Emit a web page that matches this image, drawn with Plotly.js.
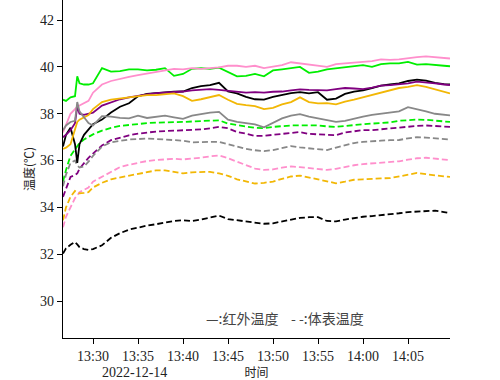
<!DOCTYPE html>
<html>
<head>
<meta charset="utf-8">
<script src="https://cdn.plot.ly/plotly-3.0.1.min.js"></script>
<style>html,body{margin:0;padding:0;background:#fff;}#chart{width:500px;height:380px;}</style>
</head>
<body>
<div id="chart"></div>
<script>
var times = ["13:26:40","13:27:00","13:27:30","13:28:00","13:28:15","13:28:30","13:29:00","13:29:30","13:30:00",
"13:31:00","13:32:00","13:33:00","13:34:00","13:35:00","13:36:00","13:37:00","13:38:00","13:39:00","13:40:00",
"13:41:00","13:42:00","13:43:00","13:44:00","13:45:00","13:46:00","13:47:00","13:48:00","13:49:00","13:50:00",
"13:51:00","13:52:00","13:53:00","13:54:00","13:55:00","13:56:00","13:57:00","13:58:00","13:59:00","14:00:00",
"14:01:00","14:02:00","14:03:00","14:04:00","14:05:00","14:06:00","14:07:00","14:08:00","14:09:00","14:09:40"];
var dateStr = "2022-12-14";

// 红外温度 (solid)
var greenIR  = [38.6,38.55,38.7,38.75,39.6,39.3,39.25,39.25,39.3,39.95,39.8,39.82,39.9,39.9,39.85,39.88,39.95,39.62,39.7,39.92,39.95,39.92,39.97,39.8,39.6,39.62,39.7,39.6,39.85,39.9,39.94,40.0,39.75,39.8,39.9,39.95,40.0,40.05,40.08,40.0,40.12,40.15,40.15,40.22,40.1,40.12,40.1,40.05,40.03];
var pinkIR   = [37.2,37.5,38.0,38.2,38.3,38.35,38.45,38.55,38.9,39.25,39.4,39.5,39.58,39.65,39.72,39.8,39.88,39.92,39.9,39.95,39.92,39.95,39.98,40.05,40.05,40.0,40.05,39.95,40.0,40.08,40.2,40.15,40.08,40.05,40.0,40.12,40.15,40.18,40.22,40.25,40.32,40.3,40.32,40.38,40.42,40.45,40.42,40.38,40.36];
var blackIR  = [36.6,37.1,37.4,36.7,35.9,36.7,37.1,37.35,37.55,37.75,38.05,38.3,38.45,38.75,38.85,38.88,38.92,38.94,38.95,39.1,39.18,39.22,39.32,38.95,38.87,38.72,38.62,38.6,38.72,38.8,38.88,38.92,38.87,38.92,38.6,38.65,38.85,38.95,39.0,39.1,39.2,39.25,39.3,39.4,39.46,39.42,39.32,39.27,39.25];
var purpleIR = [37.0,37.1,37.3,37.6,38.3,38.0,37.95,38.0,38.05,38.35,38.5,38.62,38.7,38.78,38.83,38.88,38.9,38.92,38.95,39.0,39.03,39.05,39.02,38.98,38.92,38.9,38.92,38.9,38.94,38.95,39.0,39.04,39.02,39.0,39.0,39.05,39.1,39.08,39.05,39.12,39.2,39.22,39.25,39.3,39.37,39.35,39.3,39.25,39.22];
var orangeIR = [36.5,36.55,36.7,37.4,37.65,37.75,37.85,37.95,38.2,38.5,38.6,38.65,38.72,38.75,38.8,38.8,38.85,38.87,38.75,38.55,38.62,38.72,38.8,38.6,38.42,38.37,38.33,38.2,38.25,38.4,38.5,38.7,38.5,38.44,38.45,38.4,38.52,38.6,38.7,38.8,38.9,38.98,39.1,39.15,39.22,39.15,39.05,38.95,38.87];
var grayIR   = [37.3,37.5,37.65,37.7,38.5,38.1,37.85,37.6,37.5,37.9,37.88,37.82,37.8,37.92,37.82,37.88,37.92,37.85,37.78,37.92,38.0,38.05,38.08,37.75,37.65,37.6,37.55,37.42,37.6,37.8,37.92,37.98,37.88,37.8,37.73,37.65,37.7,37.8,37.88,37.95,38.0,38.05,38.1,38.28,38.2,38.1,38.0,37.95,37.93];

// 体表温度 (dashed)
var greenSk  = [35.1,35.6,36.2,36.5,36.6,36.75,36.9,37.0,37.12,37.28,37.4,37.48,37.53,37.57,37.6,37.62,37.62,37.63,37.65,37.67,37.68,37.7,37.72,37.58,37.5,37.45,37.4,37.38,37.44,37.48,37.5,37.5,37.5,37.5,37.46,37.44,37.48,37.5,37.55,37.58,37.6,37.63,37.7,37.73,37.75,37.74,37.7,37.66,37.65];
var purpleSk = [34.45,34.8,35.3,35.38,35.45,35.65,35.9,36.12,36.3,36.65,36.87,36.98,37.08,37.15,37.2,37.24,37.26,37.27,37.28,37.3,37.33,37.38,37.44,37.38,37.22,37.15,37.05,37.06,37.1,37.15,37.2,37.22,37.14,37.12,37.1,37.08,37.2,37.25,37.3,37.3,37.34,37.37,37.42,37.44,37.48,37.5,37.47,37.44,37.44];
var graySk   = [34.9,35.4,35.9,36.0,35.8,35.7,35.75,35.95,36.2,36.6,36.78,36.85,36.9,36.92,36.94,36.92,36.9,36.87,36.85,36.78,36.8,36.8,36.8,36.7,36.6,36.5,36.44,36.4,36.45,36.55,36.62,36.56,36.52,36.5,36.45,36.55,36.65,36.75,36.8,36.84,36.85,36.87,36.88,36.95,37.0,36.98,36.94,36.91,36.9];
var pinkSk   = [33.15,33.6,34.0,34.4,34.5,34.65,34.75,34.85,35.1,35.3,35.52,35.72,35.82,35.9,35.98,36.02,36.05,36.08,36.05,36.08,36.12,36.18,36.22,36.1,35.95,35.82,35.66,35.6,35.62,35.7,35.75,35.72,35.68,35.62,35.6,35.65,35.73,35.8,35.85,35.88,35.9,35.93,35.97,36.04,36.1,36.12,36.08,36.04,36.02];
var orangeSk = [33.45,34.0,34.45,34.7,34.65,34.6,34.62,34.65,34.85,35.05,35.2,35.28,35.35,35.45,35.52,35.58,35.58,35.5,35.45,35.5,35.52,35.52,35.45,35.35,35.2,35.12,35.02,35.05,35.1,35.22,35.32,35.36,35.28,35.2,35.1,35.03,35.1,35.18,35.2,35.23,35.24,35.25,35.32,35.42,35.47,35.42,35.36,35.32,35.3];
var blackSk  = [32.03,32.25,32.4,32.52,32.42,32.3,32.22,32.18,32.22,32.38,32.7,32.9,33.05,33.15,33.22,33.28,33.35,33.42,33.45,33.42,33.48,33.55,33.65,33.5,33.45,33.42,33.35,33.3,33.32,33.4,33.5,33.55,33.58,33.58,33.42,33.4,33.48,33.55,33.6,33.63,33.66,33.7,33.75,33.8,33.82,33.85,33.86,33.8,33.75];

var xTickVals = ["13:30","13:35","13:40","13:45","13:50","13:55","14:00","14:05"];
var xTickText = ["13:30","13:35","13:40","13:45","13:50","13:55","14:00","14:05"];
var yTickVals = [30,32,34,36,38,40,42];

var x = times.map(function(t){return dateStr + " " + t;});

var colors = {green:"#00ee00", pink:"#ff8fcc", black:"#000000", purple:"#800080", orange:"#f2b705", gray:"#888888"};
var order = [
  ["green", greenIR, greenSk],
  ["pink", pinkIR, pinkSk],
  ["black", blackIR, blackSk],
  ["purple", purpleIR, purpleSk],
  ["orange", orangeIR, orangeSk],
  ["gray", grayIR, graySk]
];
var traces = [];
order.forEach(function(o){
  traces.push({x:x, y:o[2], type:"scatter", mode:"lines", line:{color:colors[o[0]], width:1.8, dash:"6px,3px"}, showlegend:false, hoverinfo:"skip"});
});
order.forEach(function(o){
  traces.push({x:x, y:o[1], type:"scatter", mode:"lines", line:{color:colors[o[0]], width:1.8}, showlegend:false, hoverinfo:"skip"});
});

var serif = "Liberation Serif, DejaVu Serif, Noto Sans CJK SC, serif";
var layout = {
  width:500, height:380,
  margin:{l:63, r:50, t:0, b:42},
  paper_bgcolor:"#fff", plot_bgcolor:"#fff",
  font:{family:serif, size:12, color:"#222"},
  xaxis:{
    type:"date",
    range:[dateStr+" 13:26:40", dateStr+" 14:09:40"],
    tickvals: xTickVals.map(function(t){return dateStr+" "+t;}),
    ticktext: xTickText,
    ticks:"outside", ticklen:5, tickcolor:"#000",
    showline:true, linecolor:"#000", linewidth:1.2,
    showgrid:false, zeroline:false,
    tickfont:{family:serif, size:14, color:"#222"},
    title:{text:"时间", font:{family:"Noto Sans CJK SC", size:12, color:"#222"}, standoff:2}
  },
  yaxis:{
    range:[28.42, 42.86],
    tickvals: yTickVals,
    ticks:"outside", ticklen:5, tickcolor:"#000",
    showline:true, linecolor:"#000", linewidth:1.2,
    showgrid:false, zeroline:false,
    tickfont:{family:serif, size:14, color:"#222"},
    title:{text:"温度(℃)", font:{family:"Noto Sans CJK SC", size:12, color:"#222"}, standoff:2}
  },
  annotations:[
    {text:"2022-12-14", xref:"paper", yref:"paper", x:0.186, y:-0.101, xanchor:"center", yanchor:"middle", showarrow:false, font:{family:serif, size:14, color:"#222"}},
    {text:"—:红外温度    - -:体表温度", xref:"paper", yref:"paper", x:0.574, y:0.059, xanchor:"center", yanchor:"middle", showarrow:false, font:{family:"Noto Sans CJK SC", size:14, color:"#444"}}
  ]
};
Plotly.newPlot("chart", traces, layout, {staticPlot:true, displayModeBar:false});
</script>
</body>
</html>
